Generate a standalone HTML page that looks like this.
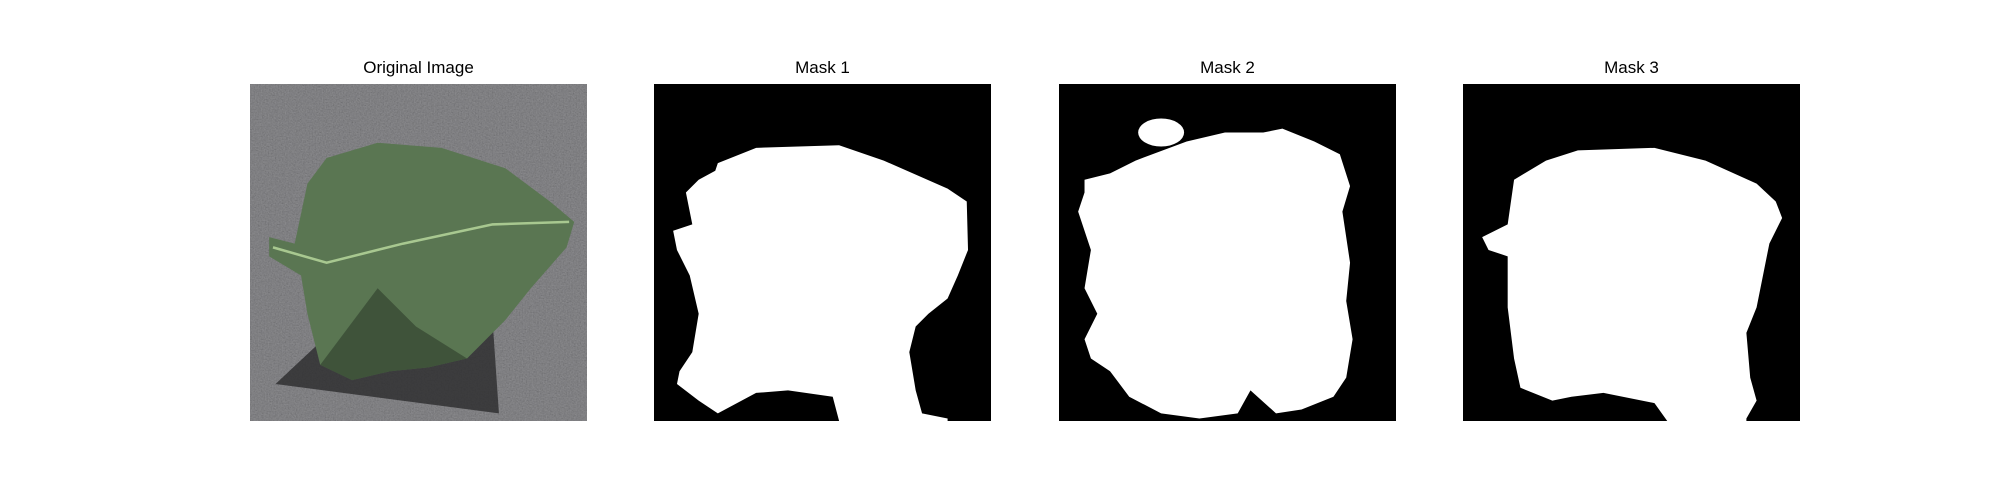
<!DOCTYPE html>
<html><head><meta charset="utf-8"><style>
body{margin:0;width:2000px;height:500px;background:#fff;position:relative;overflow:hidden;font-family:"Liberation Sans","DejaVu Sans",sans-serif}
.t{position:absolute;top:58px;width:337px;text-align:center;font-size:17px;color:#000}
svg.p{position:absolute;top:84px;width:337px;height:337px}
</style></head><body>
<div class="t" style="left:250px">Original Image</div>
<div class="t" style="left:654px">Mask 1</div>
<div class="t" style="left:1059px">Mask 2</div>
<div class="t" style="left:1463px">Mask 3</div>

<svg class="p" style="left:250px" viewBox="0 0 264 264" preserveAspectRatio="none">
<defs><filter id="n" x="0" y="0" width="100%" height="100%"><feTurbulence type="fractalNoise" baseFrequency="0.9" numOctaves="2" seed="3"/><feColorMatrix type="matrix" values="0.5 0.5 0.5 0 0  0.5 0.5 0.5 0 0  0.5 0.5 0.5 0 0  0 0 0 0 1"/></filter></defs>
<rect width="264" height="264" fill="#555559"/>
<rect width="264" height="264" filter="url(#n)" opacity="0.3"/>
<polygon points="20,235 195,258 190,185 100,160" fill="#2a2a2c" opacity="0.8"/>
<polygon points="15,120 35,125 45,78 60,58 100,46 150,50 200,66 235,92 254,108 248,128 220,160 200,185 170,215 140,222 110,225 80,232 55,220 45,180 40,150 15,135" fill="#5a7652"/>
<polygon points="55,220 100,160 130,190 170,215 140,222 110,225 80,232" fill="#334530" opacity="0.7"/>
<polyline points="18,128 60,140 120,125 190,110 250,108" fill="none" stroke="#a8c890" stroke-width="2"/>
</svg>

<svg class="p" style="left:654px" viewBox="0 0 264 264" preserveAspectRatio="none">
<rect width="264" height="264" fill="#000"/>
<polygon fill="#fff" points="50,62 80,50 145,48 180,60 230,82 245,92 246,130 238,150 230,168 215,180 205,190 200,210 205,240 210,258 230,262 230,264 145,264 140,245 105,240 80,242 50,258 35,248 18,235 20,225 30,210 35,180 28,150 18,130 15,115 30,110 25,85 35,75 48,68"/>
</svg>

<svg class="p" style="left:1059px" viewBox="0 0 264 264" preserveAspectRatio="none">
<rect width="264" height="264" fill="#000"/>
<ellipse cx="80" cy="38" rx="18" ry="11" fill="#fff"/>
<polygon fill="#fff" points="20,75 40,70 60,60 100,45 130,38 160,38 175,35 200,45 220,55 228,80 222,100 228,140 225,170 230,200 225,230 215,245 190,255 170,258 150,240 140,258 110,262 80,258 55,245 40,225 25,215 20,200 30,180 20,160 25,130 15,100 20,85"/>
</svg>

<svg class="p" style="left:1463px" viewBox="0 0 264 264" preserveAspectRatio="none">
<rect width="264" height="264" fill="#000"/>
<polygon fill="#fff" points="40,75 65,60 90,52 150,50 190,60 230,78 245,92 250,105 240,125 235,150 230,175 222,195 225,230 230,248 222,262 222,264 160,264 150,250 110,242 85,245 70,248 45,238 40,215 35,175 35,135 20,130 15,120 25,115 35,110"/>
</svg>
</body></html>
